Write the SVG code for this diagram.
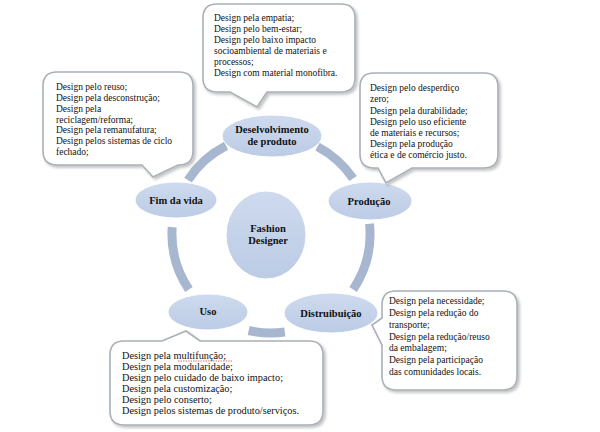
<svg xmlns="http://www.w3.org/2000/svg" width="600" height="432" viewBox="0 0 600 432">
<defs>
<linearGradient id="ng" x1="0" y1="0" x2="0" y2="1">
<stop offset="0" stop-color="#cedaee"/>
<stop offset="1" stop-color="#bccce5"/>
</linearGradient>
<filter id="sh" x="-10%" y="-10%" width="120%" height="120%">
<feGaussianBlur in="SourceAlpha" stdDeviation="1.5"/>
<feOffset dx="1.5" dy="1.5"/>
<feComponentTransfer><feFuncA type="linear" slope="0.25"/></feComponentTransfer>
<feMerge><feMergeNode/><feMergeNode in="SourceGraphic"/></feMerge>
</filter>
</defs>
<style>
.call{fill:#ffffff;stroke:#a9b0b8;stroke-width:1.6;filter:url(#sh)}
.ct{font-size:9.5px;fill:#111}
.cu{font-size:10.3px;fill:#111}
.node{fill:url(#ng);stroke:#ffffff;stroke-width:1}
.nt{font-size:10.5px;font-weight:bold;fill:#111;text-anchor:middle}
.arc{fill:none;stroke:#a7b7d0;stroke-width:9}
</style>
<rect width="600" height="432" fill="#ffffff"/>

<g id="connectors">
<path class="arc" d="M188.0,180.1 A99,99 0 0 1 226.1,145.8"/>
<path class="arc" d="M317.5,146.6 A99,99 0 0 1 353.1,178.6"/>
<path class="arc" d="M369.5,223.7 A99,99 0 0 1 353.1,289.4"/>
<path class="arc" d="M284.8,332.0 A99,99 0 0 1 248.7,330.5"/>
<path class="arc" d="M188.9,289.4 A99,99 0 0 1 172.2,227.1"/>
</g>

<g font-family="'Liberation Serif', 'Times New Roman', 'DejaVu Serif', serif">
<g id="center">
<ellipse class="node" cx="266" cy="235" rx="40" ry="44"/>
<text class="nt" x="268" y="232">Fashion</text>
<text class="nt" x="268" y="244">Designer</text>
</g>

<g id="desenvolvimento">
<ellipse class="node" cx="272" cy="136" rx="50" ry="21"/>
<text class="nt" x="272" y="133">Deselvolvimento</text>
<text class="nt" x="272" y="145">de produto</text>
</g>

<g id="producao">
<ellipse class="node" cx="370" cy="201" rx="42" ry="19"/>
<text class="nt" x="369" y="205">Produção</text>
</g>

<g id="distribuicao">
<ellipse class="node" cx="331" cy="313" rx="47" ry="20"/>
<text class="nt" x="331" y="317">Distruibuição</text>
</g>

<g id="uso">
<ellipse class="node" cx="208" cy="312" rx="40" ry="18"/>
<text class="nt" x="208" y="315">Uso</text>
</g>

<g id="fim">
<ellipse class="node" cx="176" cy="200" rx="41" ry="18"/>
<text class="nt" x="176" y="204">Fim da vida</text>
</g>

<g id="callout-desenvolvimento">
<path class="call" d="M217,4 H341 Q355,4 355,18 V78 Q355,92 341,92 H267 L257,107 L230,92 H217 Q203,92 203,78 V18 Q203,4 217,4 Z"/>
<text class="ct" x="214" y="21">Design pela empatia;</text>
<text class="ct" x="214" y="32">Design pelo bem-estar;</text>
<text class="ct" x="214" y="43">Design pelo baixo impacto</text>
<text class="ct" x="214" y="54">socioambiental  de materiais  e</text>
<text class="ct" x="214" y="65">processos;</text>
<text class="ct" x="214" y="76">Design com material  monofibra.</text>
</g>

<g id="callout-fim">
<path class="call" d="M57,72 H179 Q193,72 193,86 V151 Q193,165 179,165 H178 L153,177 L142,165 H57 Q43,165 43,151 V86 Q43,72 57,72 Z"/>
<text class="ct" x="56" y="90">Design pelo reuso;</text>
<text class="ct" x="56" y="101">Design pela desconstrução;</text>
<text class="ct" x="56" y="112">Design pela</text>
<text class="ct" x="56" y="123">reciclagem/reforma;</text>
<text class="ct" x="56" y="133">Design pela remanufatura;</text>
<text class="ct" x="56" y="144">Design pelos sistemas de ciclo</text>
<text class="ct" x="56" y="155">fechado;</text>
</g>

<g id="callout-producao">
<path class="call" d="M374,73 H484 Q498,73 498,87 V154 Q498,168 484,168 H412 L386,183 L378,168 H374 Q360,168 360,154 V87 Q360,73 374,73 Z"/>
<text class="ct" x="370" y="91">Design pelo  desperdiço</text>
<text class="ct" x="370" y="102">zero;</text>
<text class="ct" x="370" y="114">Design pela durabilidade;</text>
<text class="ct" x="370" y="125">Design pelo  uso eficiente</text>
<text class="ct" x="370" y="136">de materiais  e recursos;</text>
<text class="ct" x="370" y="147">Design pela produção</text>
<text class="ct" x="370" y="158">ética  e de comércio  justo.</text>
</g>

<g id="callout-distribuicao">
<path class="call" d="M396,291 H503 Q517,291 517,305 V376 Q517,390 503,390 H396 Q382,390 382,376 V345 L372,325 L382,318 V305 Q382,291 396,291 Z"/>
<text class="ct" x="389" y="304">Design pela necessidade;</text>
<text class="ct" x="389" y="316">Design pela redução do</text>
<text class="ct" x="389" y="328">transporte;</text>
<text class="ct" x="389" y="340">Design pela redução/reuso</text>
<text class="ct" x="389" y="351">da embalagem;</text>
<text class="ct" x="389" y="363">Design pela participação</text>
<text class="ct" x="389" y="375">das comunidades locais.</text>
</g>

<g id="callout-uso">
<path class="call" d="M124,341 H162 L186,331 L200,341 H309 Q323,341 323,355 V411 Q323,425 309,425 H124 Q110,425 110,411 V355 Q110,341 124,341 Z"/>
<text class="cu" x="122" y="359">Design pela multifunção;</text>
<path d="M178,361 h55" stroke="#c05050" stroke-width="0.8" stroke-dasharray="1.5,1" fill="none"/>
<text class="cu" x="122" y="370">Design pela modularidade;</text>
<text class="cu" x="122" y="381">Design pelo cuidado de baixo impacto;</text>
<text class="cu" x="122" y="392">Design pela customização;</text>
<text class="cu" x="122" y="403">Design pelo conserto;</text>
<text class="cu" x="122" y="414">Design pelos sistemas  de produto/serviços.</text>
</g>
</g>
</svg>
